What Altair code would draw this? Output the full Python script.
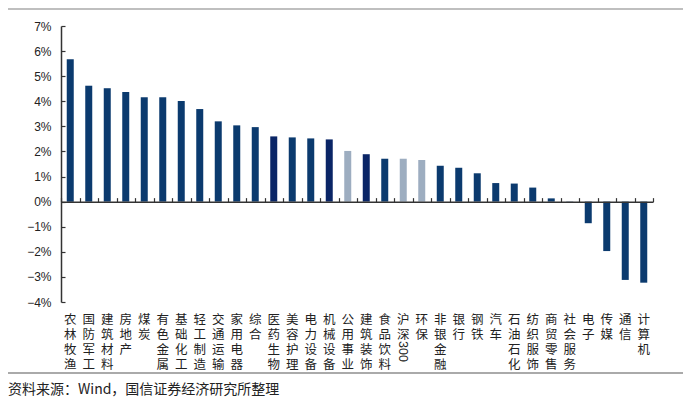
import altair as alt
import pandas as pd

categories = ["农林牧渔", "国防军工", "建筑材料", "房地产", "煤炭", "有色金属", "基础化工",
              "轻工制造", "交通运输", "家用电器", "综合", "医药生物", "美容护理", "电力设备",
              "机械设备", "公用事业", "建筑装饰", "食品饮料", "沪深300", "环保", "非银金融",
              "银行", "钢铁", "汽车", "石油石化", "纺织服饰", "商贸零售", "社会服务", "电子",
              "传媒", "通信", "计算机"]
values = [5.67, 4.62, 4.52, 4.37, 4.16, 4.16, 4.01, 3.69, 3.20, 3.04, 2.97, 2.60, 2.56, 2.52,
          2.48, 2.02, 1.89, 1.71, 1.71, 1.66, 1.43, 1.35, 1.13, 0.74, 0.72, 0.56, 0.13, 0.01,
          -0.86, -1.97, -3.12, -3.23]
groups = ["a", "a", "a", "a", "a", "a", "a", "a", "a", "a", "a", "b", "a", "a",
          "b", "c", "b", "a", "c", "c", "a", "a", "a", "a", "a", "a", "a", "a",
          "a", "a", "a", "a"]
group_names = ["a", "b", "c"]
group_colors = ["#0b3a6e", "#0a2566", "#9dadc0"]
y_ticks = [-4, -3, -2, -1, 0, 1, 2, 3, 4, 5, 6, 7]
source_text = "资料来源：Wind，国信证券经济研究所整理"

df = pd.DataFrame({"cat": categories, "val": values, "grp": groups})

W, H = 592, 276
zero_offset = -H * 7 / 11
label_font = "Liberation Sans, Noto Sans CJK SC"

xscale = alt.Scale(paddingInner=0, paddingOuter=0)
yscale = alt.Scale(domain=[-4, 7], nice=False, zero=False)

base = alt.Chart(df)

bars = base.mark_bar(size=7).encode(
    x=alt.X("cat:N", sort=categories, scale=xscale, title=None,
            axis=alt.Axis(orient="bottom", domain=False, ticks=False, tickSize=0,
                          labelAngle=0, labelOverlap=False,
                          labelExpr="datum.label == '沪深300' ? ['沪','深'] : split(datum.label, '')",
                          labelFont=label_font, labelFontSize=12.5, labelLineHeight=15,
                          labelPadding=11, labelBaseline="top", labelColor="#222")),
    y=alt.Y("val:Q", scale=yscale, title=None,
            axis=alt.Axis(orient="left", values=y_ticks, grid=False, ticks=False, tickSize=0,
                          labelExpr="format(datum.value, 'd') + '%'",
                          labelFont="Liberation Sans", labelFontSize=12, labelColor="#222",
                          labelPadding=10, domainColor="#333", domainWidth=1.5)),
    color=alt.Color("grp:N", scale=alt.Scale(domain=group_names, range=group_colors), legend=None),
)

tick_layer = base.mark_bar(size=7, opacity=0).encode(
    x=alt.X("cat:N", sort=categories, scale=xscale, title=None,
            axis=alt.Axis(orient="top", offset=zero_offset, labels=False, domain=True,
                          domainColor="#333", domainWidth=1.5, ticks=True, tickBand="extent",
                          tickSize=4, tickColor="#333", tickWidth=1.2, zindex=1)),
    y=alt.Y("val:Q", scale=yscale, title=None,
            axis=alt.Axis(orient="right", offset=-W, values=y_ticks, labels=False, domain=False,
                          grid=False, ticks=True, tickSize=4, tickColor="#333", tickWidth=1.2,
                          zindex=1)),
)

t300 = base.transform_filter("datum.cat == '沪深300'").transform_calculate(
    t="substring(datum.cat, 2)"
).mark_text(angle=90, align="left", baseline="middle", font="Liberation Sans",
            fontSize=12.5, color="#222").encode(
    x=alt.X("cat:N", sort=categories, scale=xscale, axis=None),
    y=alt.value(H + 39),
    text="t:N",
)

line_df = pd.DataFrame({"k": [0]})
top_line = alt.Chart(line_df).mark_rule(color="#aaaaaa", strokeWidth=1.5).encode(
    x=alt.value(-53), x2=alt.value(W + 30), y=alt.value(-17))
bottom_line = alt.Chart(line_df).mark_rule(color="#aaaaaa", strokeWidth=2).encode(
    x=alt.value(-53), x2=alt.value(W + 30), y=alt.value(347))

source = alt.Chart(pd.DataFrame({"t": [source_text]})).mark_text(
    align="left", baseline="middle", font="Noto Sans CJK SC", fontSize=14, color="#222"
).encode(x=alt.value(-53), y=alt.value(364), text="t:N")

chart = alt.layer(bars, tick_layer, t300, top_line, bottom_line, source).resolve_axis(
    x="independent", y="independent"
).properties(
    width=W, height=H,
    padding={"left": 53, "top": 18, "right": 30, "bottom": 98},
    autosize=alt.AutoSizeParams(type="none"),
).configure_view(stroke=None)

chart.save("out.html", embed_options={"renderer": "svg", "actions": False})
